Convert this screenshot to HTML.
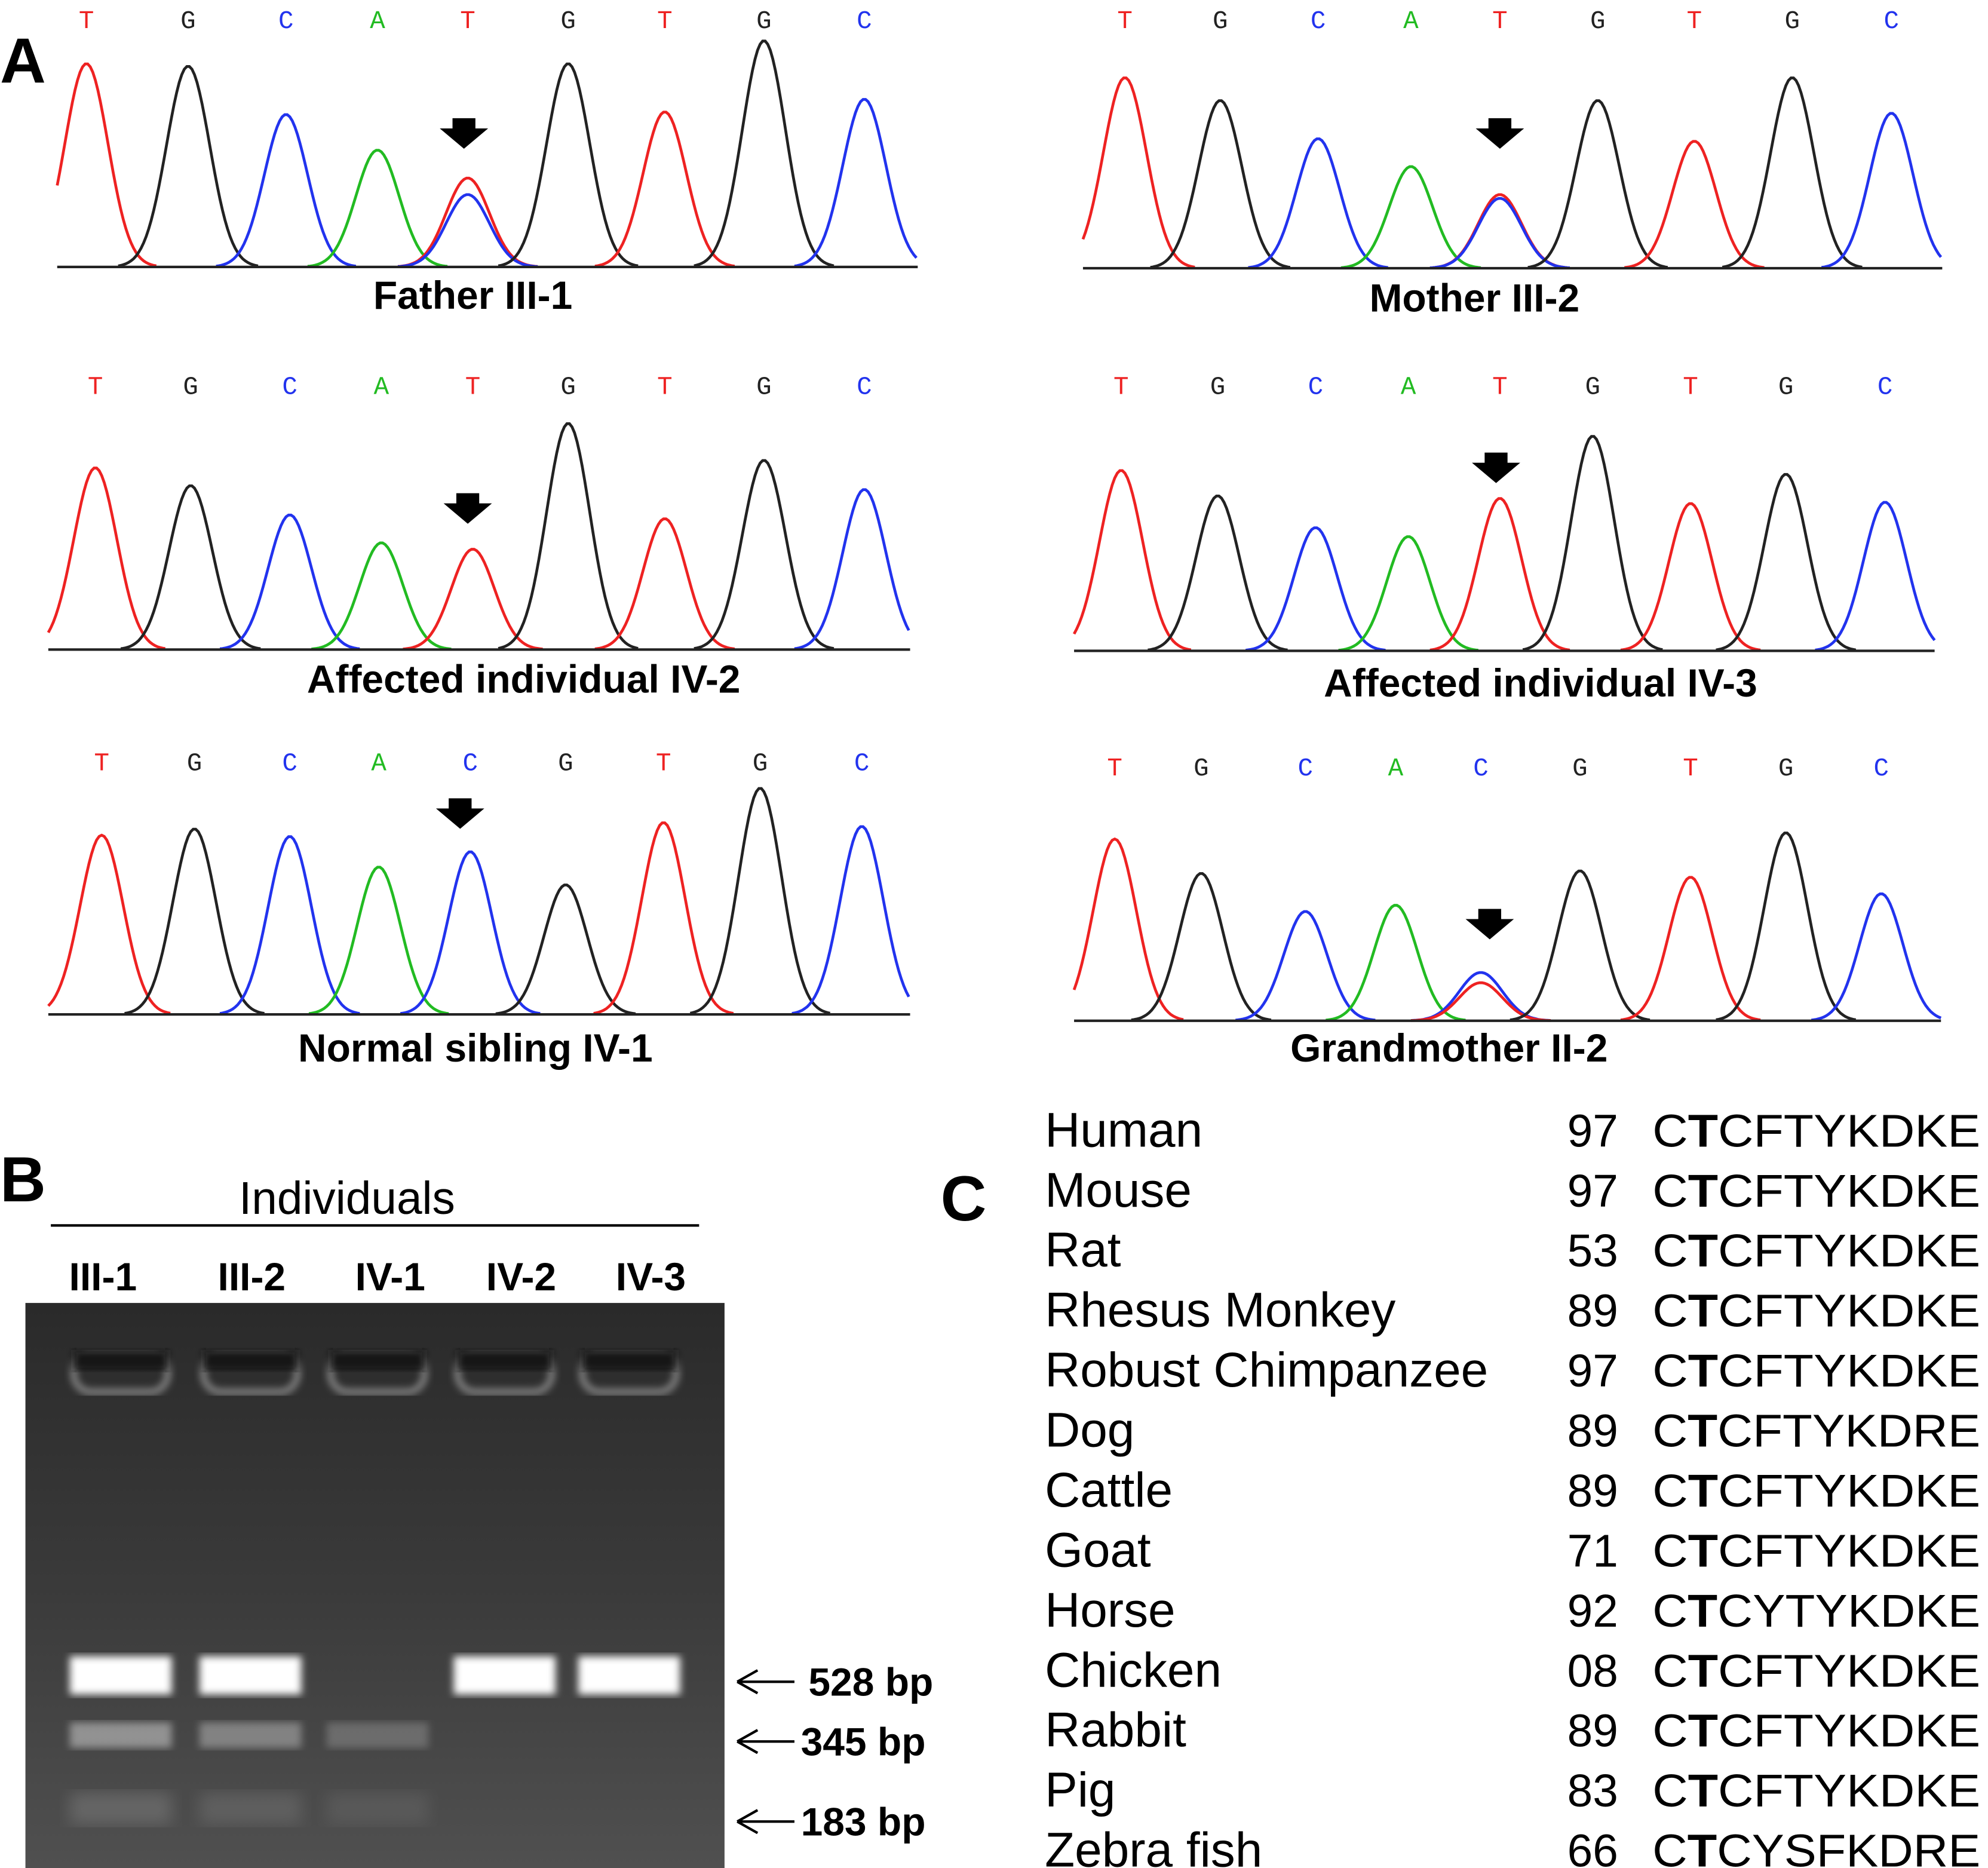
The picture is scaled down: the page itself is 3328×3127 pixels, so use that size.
<!DOCTYPE html>
<html><head><meta charset="utf-8"><style>
html,body{margin:0;padding:0;background:#fff;}
svg{display:block;font-family:"Liberation Sans",sans-serif;}
</style></head><body>
<svg id="fig" width="3328" height="3127" viewBox="0 0 1564 1469.5" xmlns="http://www.w3.org/2000/svg">
<defs>
<linearGradient id="gelg" x1="0" y1="0" x2="0" y2="1"><stop offset="0" stop-color="#2a2a2a"/><stop offset="0.5" stop-color="#3a3a3a"/><stop offset="1" stop-color="#505050"/></linearGradient>
<filter id="blur"><feGaussianBlur stdDeviation="3"/></filter>
<filter id="blur2"><feGaussianBlur stdDeviation="6"/></filter>
</defs>
<text x="0" y="65" font-size="50" font-weight="bold">A</text>
<text x="0" y="945" font-size="50" font-weight="bold">B</text>
<text x="740" y="960" font-size="50" font-weight="bold">C</text>
<g id="chroma"></g>
<g id="gel">
<text x="273" y="955" font-size="36" text-anchor="middle">Individuals</text>
<line x1="40" y1="964" x2="550" y2="964" stroke="#000" stroke-width="2"/>
<rect x="20" y="1025" width="550" height="445" fill="url(#gelg)"/>
</g>
<g id="align"></g>
</svg>
<script>
const NS="http://www.w3.org/2000/svg";
const bases=["T","G","C","A","T","G","T","G","C"];
const bases2=["T","G","C","A","C","G","T","G","C"];
const colorOf={T:"#ee2222",G:"#222222",C:"#2233ee",A:"#22bb22"};
const panelTitles=["Father III-1","Mother III-2","Affected  individual IV-2","Affected individual  IV-3","Normal sibling IV-1","Grandmother II-2"];
const panelHeights=[[160,158,120,92,70,160,122,178,132],[150,132,102,80,58,132,100,150,122],[143,129,106,84,79,178,103,149,126],[142,122,97,90,120,169,116,139,117],[141,146,140,116,128,102,151,178,148],[143,116,86,91,38,118,113,148,100]];
const secondHeights=[57,55,0,0,0,0];
const secondColors=["#2233ee","#2233ee","","","","#ee2222"];
const geom=[
 {x0:45,x1:722,base:210,ly:12,pk:[68,148,225,297,368,447,523,601,680],ax:365,ay:105,tx:372,ty:243,b:bases},
 {x0:852,x1:1528,base:211,ly:12,pk:[885,960,1037,1110,1180,1257,1333,1410,1488],ax:1180,ay:105,tx:1160,ty:245,b:bases},
 {x0:38,x1:716,base:511,ly:300,pk:[75,150,228,300,372,447,523,601,680],ax:368,ay:400,tx:412,ty:545,b:bases},
 {x0:845,x1:1522,base:512,ly:300,pk:[882,958,1035,1108,1180,1253,1330,1405,1483],ax:1177,ay:368,tx:1212,ty:548,b:bases},
 {x0:38,x1:716,base:798,ly:596,pk:[80,153,228,298,370,445,522,598,678],ax:362,ay:640,tx:374,ty:835,b:bases2},
 {x0:845,x1:1527,base:803,ly:600,pk:[877,945,1027,1098,1165,1243,1330,1405,1480],ax:1172,ay:727,tx:1140,ty:835,b:bases2}
];
const chroma=document.getElementById("chroma");
geom.forEach((g,pi)=>{
 const grp=document.createElementNS(NS,"g");
 
 
 chroma.appendChild(grp);
 g.b.forEach((b,i)=>{
  const t=document.createElementNS(NS,"text");
  
  
  t.setAttribute("x",g.pk[i]);t.setAttribute("y",g.ly+10);t.setAttribute("font-size","20");
  t.setAttribute("text-anchor","middle");t.setAttribute("fill",colorOf[b]);
  t.setAttribute("font-family","Liberation Mono, monospace");t.textContent=b;grp.appendChild(t);
  const hs=[panelHeights[pi][i]];
  const cols=[colorOf[b]];
  if(i===4&&secondHeights[pi]>0){hs.push(secondHeights[pi]);cols.push(secondColors[pi]);}
  if(i===4&&pi===5){hs.push(30);cols.push(secondColors[pi]);}
  hs.forEach((h,k)=>{
   let d="";const s=17;
   const xa=Math.max(g.x0,g.pk[i]-55), xb=Math.min(g.x1,g.pk[i]+55);
   for(let x=xa;x<=xb;x+=2){
    const y=g.base-h*Math.exp(-Math.pow(x-g.pk[i],2)/(2*s*s));
    d+=(d?"L":"M")+x+","+y.toFixed(1);
   }
   const p=document.createElementNS(NS,"path");
   
   
   p.setAttribute("d",d);p.setAttribute("fill","none");p.setAttribute("stroke",cols[k]);p.setAttribute("stroke-width","2.2");
   grp.appendChild(p);
  });
 });
 const bl=document.createElementNS(NS,"line");
 
 
 bl.setAttribute("x1",g.x0);bl.setAttribute("x2",g.x1);bl.setAttribute("y1",g.base);bl.setAttribute("y2",g.base);
 bl.setAttribute("stroke","#222");bl.setAttribute("stroke-width","2");grp.appendChild(bl);
 const ar=document.createElementNS(NS,"path");
 
 
 ar.setAttribute("d",`M${g.ax-9},${g.ay-12}h18v8h10l-19,16l-19,-16h10z`);
 grp.appendChild(ar);
 const tt=document.createElementNS(NS,"text");
 
 
 tt.setAttribute("x",g.tx);tt.setAttribute("y",g.ty);tt.setAttribute("font-size","31");tt.setAttribute("font-weight","bold");
 tt.setAttribute("text-anchor","middle");tt.setAttribute("xml:space","preserve");tt.textContent=panelTitles[pi];grp.appendChild(tt);
});
// gel
const lanes=["III-1","III-2","IV-1","IV-2","IV-3"];
const laneX=[95,197,297,397,495];
const labelX=[81,198,307,410,512];
const band528=[1,1,0,1,1];
const band345=[0.5,0.4,0.25,0,0];
const band183=[0.2,0.15,0.1,0,0];
const sizes=["528 bp","345 bp","183 bp"];
const sizeY=[1323,1370,1433];
const gel=document.getElementById("gel");
function add(tag,attrs,name,text){const e=document.createElementNS(NS,tag);for(const k in attrs)e.setAttribute(k,attrs[k]);
 
 
 if(text)e.textContent=text;gel.appendChild(e);return e;}
lanes.forEach((l,i)=>{
 add("text",{x:labelX[i],y:1015,"font-size":31,"font-weight":"bold","text-anchor":"middle"},"lane-label",l);
 add("rect",{x:laneX[i]-37,y:1065,width:74,height:30,rx:14,fill:"none",stroke:"#999","stroke-width":4,filter:"url(#blur)"},"well");
 add("rect",{x:laneX[i]-37,y:1062,width:74,height:16,fill:"#181818",filter:"url(#blur)"},"well-top");
 if(band528[i])add("rect",{x:laneX[i]-40,y:1303,width:80,height:30,fill:"#fff",opacity:band528[i],filter:"url(#blur)"},"band-528bp");
 if(band345[i])add("rect",{x:laneX[i]-40,y:1355,width:80,height:20,fill:"#ddd",opacity:band345[i],filter:"url(#blur)"},"band-345bp");
 if(band183[i])add("rect",{x:laneX[i]-40,y:1410,width:80,height:25,fill:"#ccc",opacity:band183[i],filter:"url(#blur2)"},"band-183bp");
});
sizes.forEach((s,i)=>{
 add("path",{d:`M580,${sizeY[i]}h45M580,${sizeY[i]}l16,-9M580,${sizeY[i]}l16,9`,stroke:"#000","stroke-width":2,fill:"none"},"size-arrow");
 add("text",{x:i==0?636:630,y:sizeY[i]+11,"font-size":31,"font-weight":"bold"},"size-label",s);
});
// alignment
const species=["Human","Mouse","Rat","Rhesus Monkey","Robust Chimpanzee","Dog","Cattle","Goat","Horse","Chicken","Rabbit","Pig","Zebra fish"];
const positions=["97","97","53","89","97","89","89","71","92","08","89","83","66"];
const seqs=["CTCFTYKDKE","CTCFTYKDKE","CTCFTYKDKE","CTCFTYKDKE","CTCFTYKDKE","CTCFTYKDRE","CTCFTYKDKE","CTCFTYKDKE","CTCYTYKDKE","CTCFTYKDKE","CTCFTYKDKE","CTCFTYKDKE","CTCYSFKDRE"];
const al=document.getElementById("align");
species.forEach((s,i)=>{
 const y=902+i*47.2;
 const mk=(x,txt,name,fs)=>{const t=document.createElementNS(NS,"text");
  
  
  t.setAttribute("x",x);t.setAttribute("y",y);t.setAttribute("font-size",fs);t.textContent=txt;al.appendChild(t);return t;};
 mk(822,s,"species-name",38.5);
 mk(1233,positions[i],"residue-position",36);
 const t=mk(1300,"","sequence",36);
 t.setAttribute("textLength","258");t.setAttribute("lengthAdjust","spacingAndGlyphs");
 const a=document.createElementNS(NS,"tspan");a.textContent=seqs[i][0];t.appendChild(a);
 const b=document.createElementNS(NS,"tspan");b.setAttribute("font-weight","bold");b.textContent=seqs[i][1];t.appendChild(b);
 const c=document.createElementNS(NS,"tspan");c.textContent=seqs[i].slice(2);t.appendChild(c);
});
</script>
</body></html>
